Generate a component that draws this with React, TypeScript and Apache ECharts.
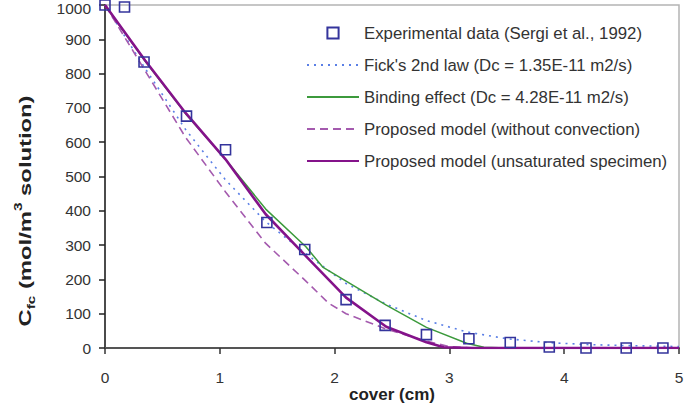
import React, { useEffect, useRef } from "react";
import * as echarts from "echarts";

const FONT = "'Liberation Sans', Arial, sans-serif";

// Experimental chloride profile (Sergi et al., 1992)
const expCover = [0, 0.17, 0.34, 0.71, 1.05, 1.41, 1.74, 2.1, 2.44, 2.8, 3.17, 3.53, 3.87, 4.19, 4.54, 4.86];
const expConc = [1000, 994, 834, 676, 578, 366, 287, 141, 66, 39, 27, 16, 3, 0, 0, 0];

// Fick's 2nd law, Dc = 1.35E-11 m2/s
const fickCover = [0, 0.35, 0.7, 1.05, 1.4, 1.75, 2.1, 2.45, 2.8, 3.15, 3.5, 3.85, 4.2, 4.55, 4.9, 5.0];
const fickConc = [1000, 815, 638, 490, 368, 275, 188, 128, 80, 47, 27, 16, 10, 7, 5, 4];

// Binding effect, Dc = 4.28E-11 m2/s
const bindCover = [0, 0.35, 0.7, 1.05, 1.4, 1.75, 1.9, 2.1, 2.45, 2.8, 3.15, 3.3, 3.5, 4.0, 4.5, 5.0];
const bindConc = [1000, 836, 684, 550, 405, 295, 235, 195, 125, 60, 14, 2, 0, 0, 0, 0];

// Proposed model without convection
const noConvCover = [0, 0.35, 0.7, 1.05, 1.4, 1.75, 1.95, 2.1, 2.45, 2.8, 3.0, 3.2, 3.5, 4.0, 4.5, 5.0];
const noConvConc = [1000, 808, 615, 455, 305, 195, 130, 100, 55, 20, 4, 0, 0, 0, 0, 0];

// Proposed model, unsaturated specimen
const unsatCover = [0, 0.35, 0.7, 1.05, 1.4, 1.75, 2.1, 2.45, 2.8, 2.95, 3.2, 3.5, 4.0, 4.5, 5.0];
const unsatConc = [1000, 838, 686, 550, 390, 268, 147, 62, 17, 2, 0, 0, 0, 0, 0];

const seriesNames = [
  "Experimental data (Sergi et al., 1992)",
  "Fick's 2nd law (Dc = 1.35E-11 m2/s)",
  "Binding effect (Dc = 4.28E-11 m2/s)",
  "Proposed model (without convection)",
  "Proposed model (unsaturated specimen)",
];

const pairs = (xs: number[], ys: number[]) => xs.map((x, i) => [x, ys[i]]);

export default function App() {
  const ref = useRef<HTMLDivElement>(null);

  useEffect(() => {
    if (!ref.current) return;
    const chart = echarts.init(ref.current, undefined, { renderer: "svg" });

    const labelStyle = { fontSize: 15.5, color: "#333", fontFamily: FONT };
    // model curves show only their line in the legend
    const hiddenMarker = { color: "rgba(0,0,0,0)", borderWidth: 0, opacity: 0 };

    chart.setOption({
      animation: false,
      backgroundColor: "#fff",
      grid: {
        left: 105,
        right: 19,
        top: 5,
        bottom: 58,
        show: true,
        borderColor: "#b4b4b4",
        borderWidth: 1.5,
        containLabel: false,
        outerBoundsMode: "none",
      },
      xAxis: {
        type: "value",
        min: 0,
        max: 5,
        interval: 1,
        axisLine: { lineStyle: { color: "#555", width: 2 } },
        axisTick: { show: true, length: 6, lineStyle: { color: "#333", width: 1.5 } },
        axisLabel: { ...labelStyle, margin: 21, formatter: (v: number) => String(v) },
        splitLine: { show: false },
        name: "cover (cm)",
        nameLocation: "middle",
        nameGap: 38,
        nameMoveOverlap: false,
        nameTextStyle: { fontSize: 17, lineHeight: 16, fontWeight: "bold", color: "#222", fontFamily: FONT },
      },
      yAxis: {
        type: "value",
        min: 0,
        max: 1000,
        interval: 100,
        axisLine: { show: true, lineStyle: { color: "#222", width: 1.5 } },
        axisTick: { show: true, length: 6, lineStyle: { color: "#222", width: 1.5 } },
        axisLabel: {
          ...labelStyle,
          margin: 14,
          lineHeight: 12,
          // the top label sits against the upper edge, nudge it inside
          formatter: (v: number) => (v === 1000 ? "{top|1000}" : String(v)),
          rich: { top: { ...labelStyle, lineHeight: 12, padding: [6, 0, 0, 0] } },
        },
        splitLine: { show: false },
      },
      legend: {
        orient: "vertical",
        left: 301,
        top: 19,
        itemWidth: 52,
        itemHeight: 14,
        itemGap: 14,
        data: [
          { name: seriesNames[0] },
          { name: seriesNames[1], itemStyle: hiddenMarker },
          { name: seriesNames[2], itemStyle: hiddenMarker },
          { name: seriesNames[3], itemStyle: hiddenMarker },
          { name: seriesNames[4], itemStyle: hiddenMarker },
        ],
        textStyle: { fontSize: 16.8, color: "#333", lineHeight: 18, fontFamily: FONT },
      },
      graphic: [
        {
          type: "text",
          x: 25,
          y: 211,
          rotation: Math.PI / 2,
          scaleX: 1.4,
          style: {
            text: "{a|C}{b|fc}{a| (mol/m}{c|3}{a| solution)}",
            align: "center",
            verticalAlign: "middle",
            rich: {
              a: { fontSize: 17, fontWeight: "bold", fill: "#222", fontFamily: FONT, lineHeight: 24 },
              b: { fontSize: 11, fontWeight: "bold", fill: "#222", fontFamily: FONT, lineHeight: 24, verticalAlign: "bottom" },
              c: { fontSize: 11, fontWeight: "bold", fill: "#222", fontFamily: FONT, lineHeight: 24, verticalAlign: "top" },
            },
          },
        },
      ],
      series: [
        {
          name: seriesNames[0],
          type: "line",
          data: pairs(expCover, expConc),
          symbol: "rect",
          symbolSize: 10,
          z: 5,
          lineStyle: { width: 0, opacity: 0 },
          itemStyle: { color: "rgba(255,255,255,0)", borderColor: "#34349c", borderWidth: 1.6 },
        },
        {
          name: seriesNames[1],
          type: "line",
          data: pairs(fickCover, fickConc),
          symbol: "none",
          lineStyle: { color: "#5a7fe6", width: 1.6, type: [2, 5] },
          itemStyle: { color: "#5a7fe6" },
        },
        {
          name: seriesNames[2],
          type: "line",
          data: pairs(bindCover, bindConc),
          symbol: "none",
          lineStyle: { color: "#3c9a3c", width: 1.5 },
          itemStyle: { color: "#3c9a3c" },
        },
        {
          name: seriesNames[3],
          type: "line",
          data: pairs(noConvCover, noConvConc),
          symbol: "none",
          lineStyle: { color: "#a45aae", width: 1.6, type: [8, 5] },
          itemStyle: { color: "#a45aae" },
        },
        {
          name: seriesNames[4],
          type: "line",
          data: pairs(unsatCover, unsatConc),
          symbol: "none",
          z: 4,
          lineStyle: { color: "#84138a", width: 2.6 },
          itemStyle: { color: "#84138a" },
        },
      ],
    });

    return () => chart.dispose();
  }, []);

  return (
    <div
      ref={ref}
      style={{ position: "fixed", left: 0, top: 0, width: 698, height: 406 }}
    />
  );
}
